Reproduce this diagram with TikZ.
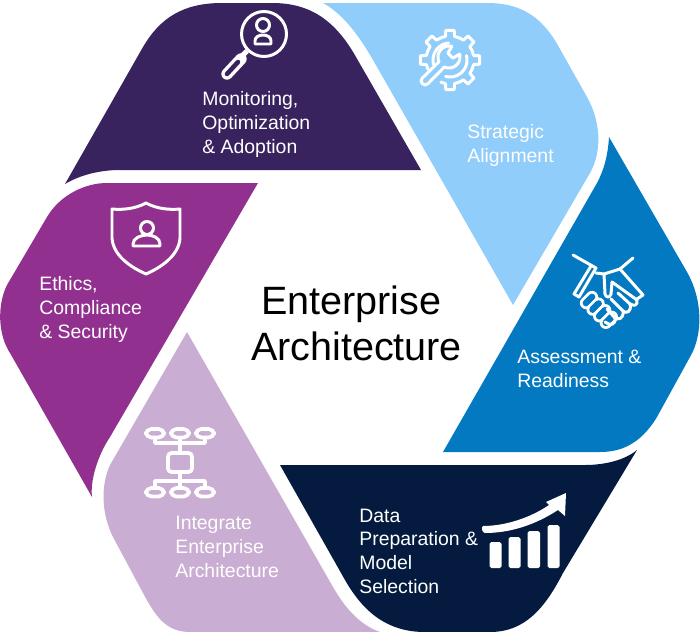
\documentclass[tikz,border=0pt]{standalone}
\usepackage{fontspec}
\setmainfont{Liberation Sans}
\definecolor{monitorcol}{HTML}{38235F}
\definecolor{strategycol}{HTML}{91CDFB}
\definecolor{assesscol}{HTML}{0379C1}
\definecolor{datacol}{HTML}{041B3F}
\definecolor{integratecol}{HTML}{CAADD2}
\definecolor{ethicscol}{HTML}{923090}
\tikzset{
	iconline/.style={white,line width=1.7pt,line cap=round,line join=round},
	seglabel/.style={white,align=left,anchor=base west,inner sep=0pt,font=\fontsize{11.05}{13.4}\selectfont}
}
\begin{document}
\begin{tikzpicture}[x=0.02cm,y=-0.02cm]
	\useasboundingbox (0,0) rectangle (700,632);
	% six segments
	\fill[monitorcol] (65,184) -- (143,47) .. controls (160,18) and (183,3) .. (222,3) -- (272,3) .. controls (310,3) and (335,20) .. (356,57) -- (421,170) -- (120,170) .. controls (100,170) and (80,175) .. (65,184) -- cycle;
	\fill[strategycol] (323,3) -- (487,3) .. controls (520,3) and (540,16) .. (556,42) -- (587,97) .. controls (600,120) and (603,150) .. (590,173) -- (513,305) -- (377,67) .. controls (362,40) and (345,15) .. (323,3) -- cycle;
	\fill[assesscol] (609,137) -- (687,272) .. controls (703,300) and (703,335) .. (690,357) -- (657,417) .. controls (640,445) and (620,452) .. (600,452) -- (443,452) -- (597,183) .. controls (604,170) and (608,155) .. (609,137) -- cycle;
	\fill[datacol] (280,465) -- (585,465) .. controls (605,465) and (625,460) .. (637,450) -- (563,573) .. controls (545,608) and (525,632) .. (490,632) -- (425,632) .. controls (390,632) and (365,615) .. (345,580) -- cycle;
	\fill[integratecol] (187,332) -- (333,587) .. controls (345,608) and (360,625) .. (380,632) -- (190,632) .. controls (165,632) and (155,615) .. (143,593) -- (113,537) .. controls (102,515) and (100,487) .. (110,465) -- cycle;
	\fill[ethicscol] (258,183) -- (107,183) .. controls (85,183) and (60,195) .. (47,217) -- (7,285) .. controls (-3,305) and (-2,335) .. (10,353) -- (92,497) .. controls (90,480) and (98,455) .. (110,437) -- cycle;
	% labels
	\node[anchor=center,align=center,inner sep=0pt,font=\fontsize{22.5}{26}\selectfont] (centre) at (356.5,323.5) {Enterprise\kern6pt\\Architecture};
	\node[seglabel] (monitor) at (202,153) {Monitoring,\\Optimization\\\& Adoption};
	\node[seglabel] (strategy) at (467,162) {Strategic\\Alignment};
	\node[seglabel] (assess) at (517,387) {Assessment \&\\Readiness};
	\node[seglabel] (data) at (359,593) {Data\\Preparation \&\\Model\\Selection};
	\node[seglabel] (integrate) at (175,577) {Integrate\\Enterprise\\Architecture};
	\node[seglabel] (ethics) at (39,338) {Ethics,\\Compliance\\\& Security};
	% magnifier
	\draw[iconline] (264,34) circle (22.5);
	\draw[iconline] (263,25) circle (6.5);
	\draw[iconline] (255,44) -- (255,41) .. controls (255,37) and (259,35) .. (263,35) .. controls (267,35) and (271,37) .. (271,41) -- (271,44) -- cycle;
	\draw[white,line width=3pt] (247,51) -- (241,57);
	\draw[white,line width=6.5pt,line cap=round] (241,59) -- (227,74);
	\draw[monitorcol,line width=2.6pt,line cap=round] (238,62) -- (227,74);
	% gear and wrench
	\begin{scope}[shift={(450,60)}]
		\foreach \a in {-90,-45,0,45,90,180,225}
			\draw[iconline] ({\a-22.5}:24) -- ({\a-11}:24) -- ({\a-8}:30) -- ({\a+8}:30) -- ({\a+11}:24) -- ({\a+22.5}:24);
		\draw[iconline] plot[domain=165:265,samples=20] ({17*cos(\x)},{17*sin(\x)});
		\draw[iconline] plot[domain=-15:105,samples=20] ({17*cos(\x)},{17*sin(\x)});
	\end{scope}
	\begin{scope}[shift={(449,57)},rotate=45]
		\draw[iconline] (-34,-4) -- plot[domain=-160:-30,samples=15] ({11*cos(\x)},{11*sin(\x)}) -- (2,-3.5) -- (2,3.5) -- plot[domain=30:160,samples=15] ({11*cos(\x)},{11*sin(\x)}) -- (-34,4) .. controls (-39,4) and (-39,-4) .. (-34,-4) -- cycle;
	\end{scope}
	% handshake
	\draw[iconline] (573,255) -- (596,268) -- (579,297) -- (574,294) -- (591,266);
	\draw[iconline] (633,258) -- (620,269) -- (643,295) -- (637,299);
	\draw[iconline] (596,273) -- (604,274) -- (620,269);
	\draw[iconline] (604,274) -- (605,294) .. controls (606,298) and (610,298) .. (611,294) -- (612,282) -- (637,300);
	\foreach \i in {0,1,2,3} {
		\draw[white,line width=7pt,line cap=round] ({586+6.6*\i},{303+6.6*\i}) -- ({592+6.6*\i},{297+6.6*\i});
		\draw[assesscol,line width=3.8pt,line cap=round] ({586+6.6*\i},{303+6.6*\i}) -- ({592+6.6*\i},{297+6.6*\i});
	}
	\draw[iconline] (637,300) .. controls (638,306) and (634,306) .. (630,304) .. controls (632,312) and (626,314) .. (623,311) .. controls (624,319) and (618,320) .. (615,318) .. controls (616,325) and (610,326) .. (605,322);
	\draw[iconline] (618,293) -- (630,304) (611,299) -- (623,311) (607,309) -- (615,318);
	% org chart
	\foreach \x in {155,180,205} {
		\draw[iconline,line width=2.1pt,rounded corners=3pt] ({\x-9},429) rectangle ({\x+9},437.5);
		\draw[iconline,line width=2.1pt,rounded corners=3pt] ({\x-9},488) rectangle ({\x+9},496.5);
	}
	\draw[iconline,line width=2.1pt,rounded corners=2pt] (168,453) rectangle (192,472);
	\draw[iconline,line width=2.1pt] (155,438) -- (155,443) -- (205,443) -- (205,438) (180,438) -- (180,453) (180,472) -- (180,488) (155,488) -- (155,481) -- (205,481) -- (205,488);
	% shield
	\draw[iconline] (146,203) .. controls (135,209) and (122,210) .. (112,209) -- (112,238) .. controls (113,255) and (130,267) .. (146,274) .. controls (162,267) and (179,255) .. (180,238) -- (180,209) .. controls (170,210) and (157,209) .. (146,203) -- cycle;
	\draw[iconline] (147,228) circle (6.5);
	\draw[iconline] (133,246) -- (133,244) .. controls (133,238) and (141,235) .. (147,235) .. controls (153,235) and (160,238) .. (160,244) -- (160,246) -- cycle;
	% bar chart and arrow
	\foreach \xa/\xb/\ytop in {489.5/501.5/542,508.5/520.5/537,527.5/540/531,547.5/559.5/525}
		\fill[white,rounded corners=1pt] (\xa,\ytop) rectangle (\xb,568);
	\fill[white] (483,526) .. controls (505,526) and (530,518) .. (549,505) -- (546,502) -- (566,493) -- (565,516) -- (558,510) .. controls (535,525) and (510,533) .. (485,533) .. controls (482,533) and (481,527) .. (483,526) -- cycle;
\end{tikzpicture}
\end{document}
